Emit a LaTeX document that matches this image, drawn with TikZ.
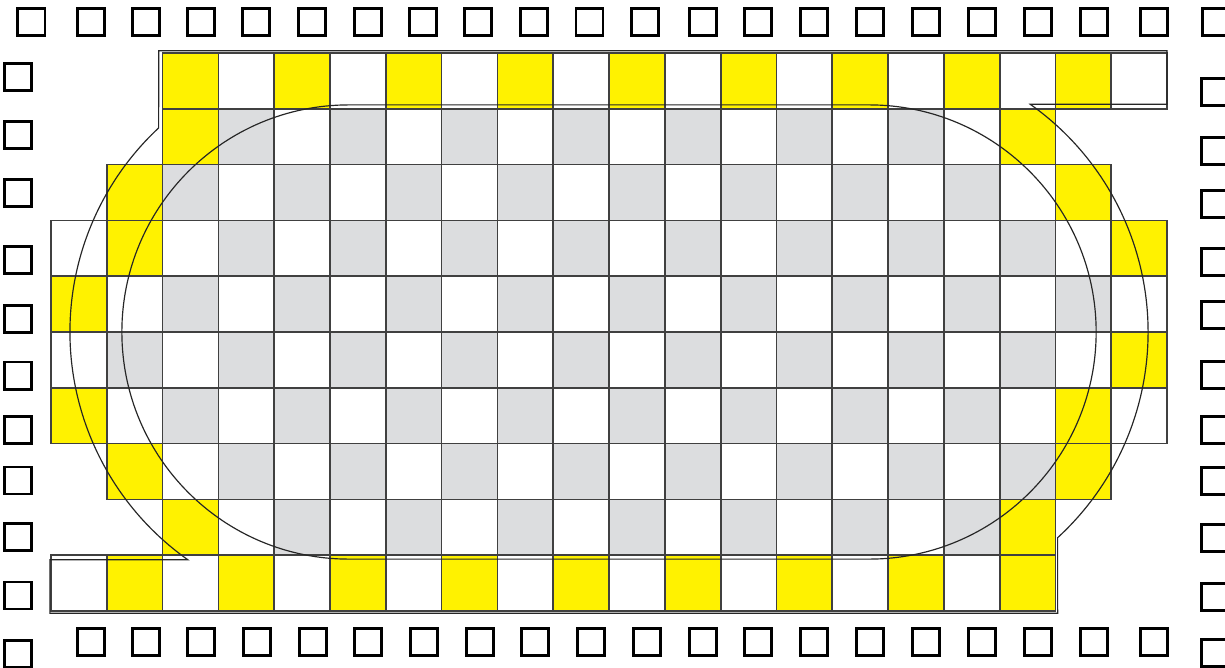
\documentclass[tikz,border=0pt]{standalone}
\usepackage{xcolor}
\usepackage{tikz}
\definecolor{tileyellow}{RGB}{255,242,0}
\definecolor{tilegray}{RGB}{220,221,223}
\tikzset{
  tile/.style={
    draw=black!75,
    line width=0.9pt,
    fill=white
  },
  tile yellow/.style={tile, fill=tileyellow},
  tile gray/.style={tile, fill=tilegray},
  track/.style={
    draw=black!85,
    line width=0.6pt
  },
  seat/.style={
    draw=black,
    line width=1.5pt,
    fill=white
  }
}

\begin{document}
\begin{tikzpicture}
  \useasboundingbox (-0.914,-1.004) rectangle (21.039,10.950);

  % Tiles, row/first/last column (row 0 on top)
  \foreach \r/\a/\b in {0/2/19,1/2/17,2/1/18,3/0/19,4/0/19,5/0/19,6/0/19,7/1/18,8/2/17,9/0/17}{
    \foreach \c in {\a,...,\b}{
      \draw[tile] (\c,9-\r) rectangle ++(1,1);
    }
  }

  % Checkered field
  \foreach \r/\a/\b in {1/3/16,2/2/17,3/2/17,4/1/18,5/1/18,6/1/17,7/2/17,8/3/16}{
    \foreach \c in {\a,...,\b}{
      \pgfmathtruncatemacro{\parity}{mod(\c+\r,2)}
      \ifnum\parity=0 \draw[tile gray] (\c,9-\r) rectangle ++(1,1); \fi
    }
  }

  % Yellow tiles
  \foreach \c in {2,4,...,18}{ \draw[tile yellow] (\c,9) rectangle ++(1,1); }
  \foreach \c in {1,3,...,17}{ \draw[tile yellow] (\c,0) rectangle ++(1,1); }
  \foreach \r/\c in {1/2,1/17,2/1,2/18,3/1,3/19,4/0,5/19,6/0,6/18,7/1,7/18,8/2,8/17}{
    \draw[tile yellow] (\c,9-\r) rectangle ++(1,1);
  }

  % Outer outline
  \draw[track] (1.93,10.04) -- (20.0,10.04) -- (20.0,9.08) -- (17.55,9.08)
    arc[start angle=54.7, end angle=-47.5, radius=5] -- (18.04,-0.04)
    -- (-0.02,-0.04) -- (-0.02,0.92) -- (2.45,0.92)
    arc[start angle=234.7, end angle=133, radius=5] -- cycle;

  % Inner track
  \draw[track] (5.34,9.07) -- (14.66,9.07)
    arc[start angle=90, end angle=-90, radius=4.07] -- (5.34,0.93)
    arc[start angle=270, end angle=90, radius=4.07] -- cycle;

  % Seats
  \foreach \x in {-0.35,0.72,1.71,2.69,3.68,4.68,5.68,6.67,7.66,8.65,9.65,10.65,11.68,12.67,13.68,14.68,15.68,16.68,17.69,18.69,19.77,20.88}{
    \draw[seat] (\x,10.55) ++(-0.242,-0.242) rectangle ++(0.484,0.484);
  }
  \foreach \x in {0.72,1.70,2.69,3.69,4.70,5.68,6.69,7.69,8.68,9.68,10.68,11.69,12.67,13.68,14.68,15.68,16.69,17.69,18.69,19.77}{
    \draw[seat] (\x,-0.55) ++(-0.242,-0.242) rectangle ++(0.484,0.484);
  }
  \foreach \y in {9.575,8.537,7.491,6.297,5.238,4.220,3.244,2.339,1.326,0.278,-0.762}{
    \draw[seat] (-0.597,\y) ++(-0.242,-0.242) rectangle ++(0.484,0.484);
  }
  \foreach \y in {9.301,8.244,7.294,6.254,5.304,4.229,3.244,2.330,1.308,0.251,-0.753}{
    \draw[seat] (20.86,\y) ++(-0.242,-0.242) rectangle ++(0.484,0.484);
  }
\end{tikzpicture}
\end{document}
